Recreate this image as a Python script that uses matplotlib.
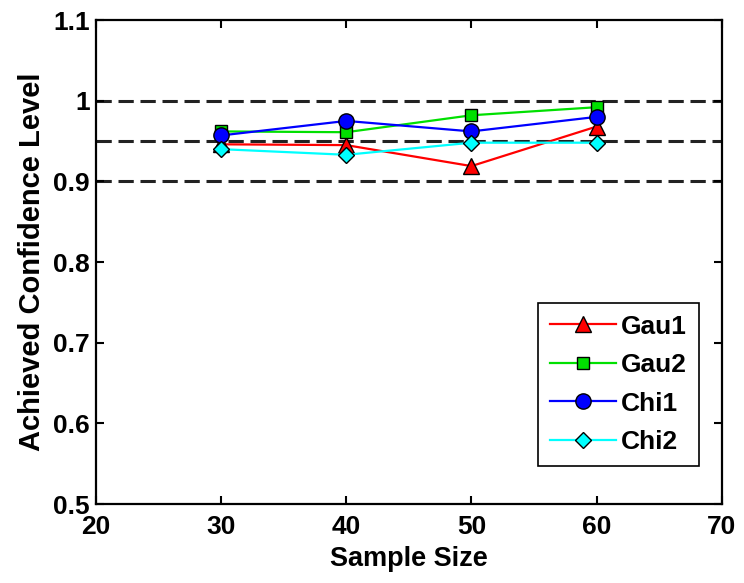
import matplotlib
matplotlib.use('Agg')
import matplotlib.pyplot as plt

plt.rcParams['font.family'] = ['Liberation Sans', 'DejaVu Sans']
plt.rcParams['font.weight'] = 'bold'

# data
sample_size = [30, 40, 50, 60]
gau1 = [0.946, 0.945, 0.919, 0.968]
gau2 = [0.962, 0.961, 0.982, 0.992]
chi1 = [0.957, 0.975, 0.962, 0.980]
chi2 = [0.940, 0.933, 0.948, 0.948]
ref_levels = [0.9, 0.95, 1.0]

fig = plt.figure(figsize=(7.44, 5.83), dpi=100)
ax = fig.add_axes([0.129, 0.1355, 0.841, 0.830])

for lv in ref_levels:
    ax.axhline(lv, color='#222222', ls=(0, (5, 2.2)), lw=2.2, zorder=1)

ax.plot(sample_size, gau1, '-^', color='red', mfc='red', mec='black', ms=11, lw=1.6, label='Gau1', zorder=3)
ax.plot(sample_size, gau2, '-s', color='#00e000', mfc='#00e000', mec='black', ms=9, lw=1.6, label='Gau2', zorder=3)
ax.plot(sample_size, chi1, '-o', color='blue', mfc='blue', mec='black', ms=11, lw=1.6, label='Chi1', zorder=3)
ax.plot(sample_size, chi2, '-D', color='cyan', mfc='cyan', mec='black', ms=8, lw=1.6, label='Chi2', zorder=3)

ax.set_xlim(20, 70)
ax.set_ylim(0.5, 1.1)
ax.set_xticks([20, 30, 40, 50, 60, 70])
ax.set_yticks([0.5, 0.6, 0.7, 0.8, 0.9, 1.0, 1.1])
ax.set_yticklabels(['0.5', '0.6', '0.7', '0.8', '0.9', '1', '1.1'])
ax.tick_params(direction='in', top=True, right=True, length=6, width=1.5, labelsize=19)
ax.tick_params(axis='x', pad=8)
ax.tick_params(axis='y', pad=4.5)
for s in ax.spines.values():
    s.set_linewidth(1.6)

ax.set_xlabel('Sample Size', fontsize=19.5, fontweight='bold', labelpad=5)
ax.set_ylabel('Achieved Confidence Level', fontsize=21, fontweight='bold', labelpad=5)

leg = ax.legend(loc='lower right', bbox_to_anchor=(0.963, 0.0785), borderaxespad=0, fontsize=19,
                frameon=True, fancybox=False, edgecolor='black', handlelength=2.5, handletextpad=0.2,
                borderpad=0.45, labelspacing=0.55, framealpha=1)
leg.get_frame().set_linewidth(1.2)

fig.savefig('out.png', dpi=100)
